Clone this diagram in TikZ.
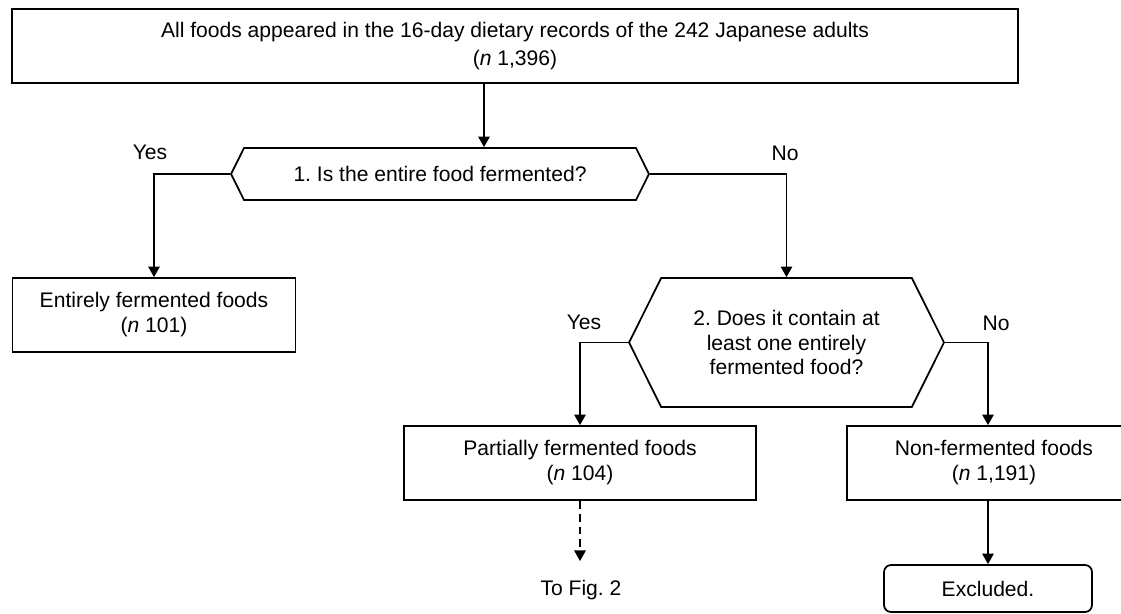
\documentclass[tikz,border=0pt]{standalone}
\usepackage{fontspec}
\setmainfont{Liberation Sans}
\usepackage{tikz}
\usetikzlibrary{
    arrows.meta,
    positioning,
    shapes.symbols,
    calc
}
\frenchspacing
\tikzset{
    food box/.style={
        rectangle, draw=black, line width=1pt,
        minimum height=1.48cm, align=center,
        font=\fontsize{12}{14.2}\selectfont
    },
    end box/.style={
        food box, rounded corners=4pt, minimum height=0.94cm
    },
    question/.style={
        signal, signal to=west and east, signal pointer angle=127,
        draw=black, line width=1pt, align=center, inner sep=0pt,
        font=\fontsize{12}{14.2}\selectfont
    },
    answer/.style={
        inner sep=0pt, font=\fontsize{12}{14.2}\selectfont
    },
    flow/.style={
        -{Triangle[length=6pt, width=6.5pt]}, line width=0.9pt
    },
}

\begin{document}
\begin{tikzpicture}[x=0.02cm, y=-0.02cm]
    \useasboundingbox (0,0) rectangle (1121,613);

    % ── All foods ──
    \node[food box, minimum width=20.12cm,
          font=\fontsize{12}{15.9}\selectfont] (allfoods) at (515,46)
        {All foods appeared in the 16-day dietary records of the 242 Japanese adults\\(\textit{n} 1,396)};

    % ── Question 1 ──
    \node[question, minimum width=8.36cm, minimum height=1.04cm] (q1) at (440,174)
        {1. Is the entire food fermented?};
    \coordinate (split) at (484,0);
    \draw[flow] (allfoods.south -| split) -- (q1.north -| split);

    \node[food box, minimum width=5.66cm] (entire) at (154,315)
        {Entirely fermented foods\\(\textit{n} 101)};
    \node[answer] (yes1) at (150,152) {Yes};
    \node[answer] (no1) at (785,153) {No};
    \draw[flow] (q1.west) -| (entire.north);

    % ── Question 2 ──
    \node[question, minimum width=6.3cm, minimum height=2.58cm] (q2) at (786.5,342.5)
        {2. Does it contain at\\least one entirely\\fermented food?};
    \draw[flow] (q1.east) -| (q2.north);

    \node[food box, minimum width=7.04cm] (partial) at (580,463)
        {Partially fermented foods\\(\textit{n} 104)};
    \node[food box, minimum width=5.88cm] (nonferm) at (994,463)
        {Non-fermented foods\\(\textit{n} 1,191)};
    \node[end box, minimum width=4.16cm] (excluded) at (988,588.5) {Excluded.};

    \node[answer] (yes2) at (584,322) {Yes};
    \node[answer] (no2) at (996,323) {No};
    \draw[flow] (q2.west) -| (partial.north);
    \draw[flow] (q2.east) -| (excluded.north |- nonferm.north);
    \draw[flow] (nonferm.south -| excluded.north) -- (excluded.north);

    % ── To Fig. 2 ──
    \coordinate (fig2) at (580,561);
    \draw[flow, dash pattern=on 4.5pt off 2.8pt] (partial.south) -- (fig2);
    \node[answer] (tofig) at (581,590) {To Fig. 2};

\end{tikzpicture}
\end{document}
